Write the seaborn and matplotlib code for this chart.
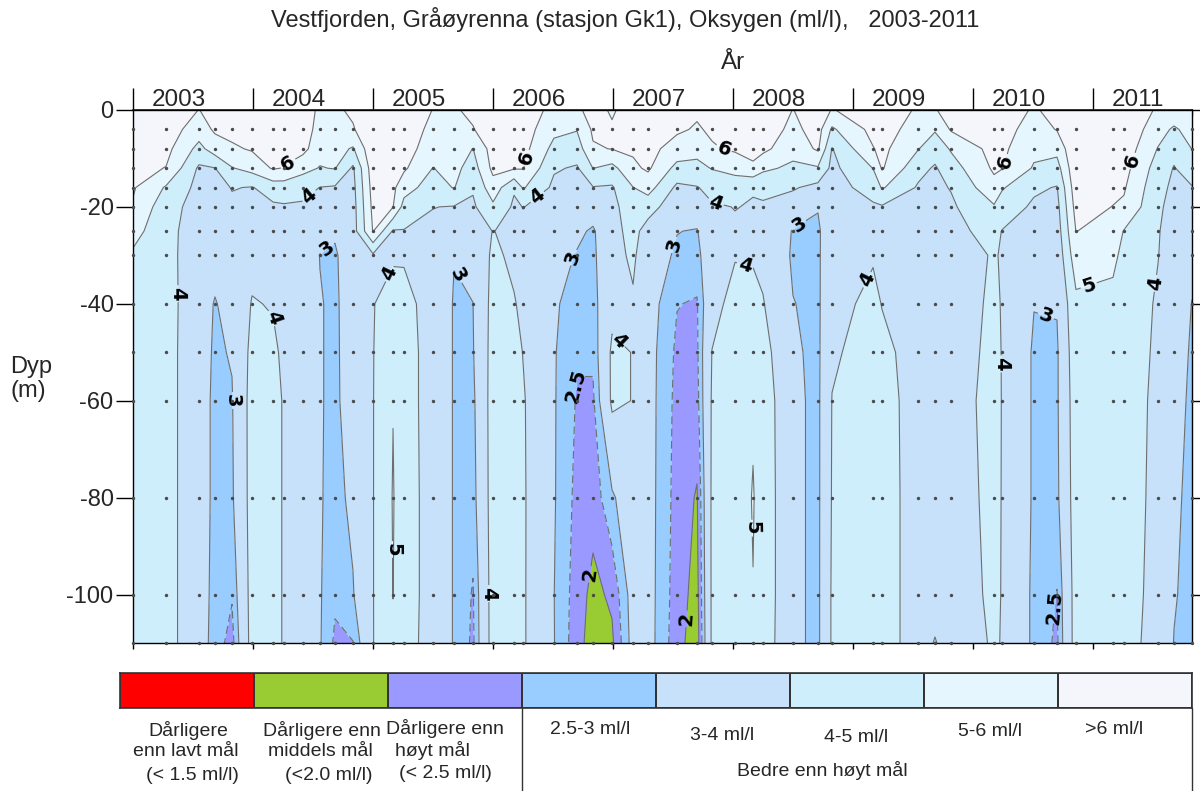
import numpy as np
import pandas as pd
import matplotlib
matplotlib.use("Agg")
import matplotlib.pyplot as plt
from matplotlib.colors import ListedColormap
from matplotlib.lines import Line2D
from matplotlib.ticker import FixedLocator
import seaborn as sns

# Station visits (decimal year)
visit_year = [2003.000, 2003.275, 2003.550, 2003.683, 2003.825, 2003.992, 2004.167, 2004.258,
              2004.417, 2004.558, 2004.683, 2004.833, 2005.000, 2005.167, 2005.258, 2005.500,
              2005.675, 2005.833, 2006.000, 2006.175, 2006.250, 2006.508, 2006.700, 2006.833,
              2006.992, 2007.167, 2007.292, 2007.533, 2007.700, 2007.825, 2008.017, 2008.167,
              2008.250, 2008.500, 2008.708, 2008.825, 2009.167, 2009.242, 2009.542, 2009.683,
              2009.817, 2010.175, 2010.242, 2010.508, 2010.700, 2010.858, 2011.167, 2011.258,
              2011.542, 2011.675, 2011.825]

# Sampling depths (m)
depth_m = [0, 4, 8, 12, 16, 20, 25, 30, 40, 50, 60, 80, 100, 110]

# Oxygen (ml/l) at each depth, one value per visit
o2_0m = [6.8, 6.7, 5.98, 6.4, 6.5, 6.6, 6.7, 6.8, 6.8, 5.7,
         5.8, 6.2, 7.0, 6.9, 6.8, 5.97, 5.9, 6.2, 6.7, 6.7,
         6.6, 5.7, 5.85, 6.3, 5.9, 6.4, 6.5, 6.3, 6.15, 6.3,
         6.5, 6.6, 6.7, 5.98, 6.5, 5.95, 6.5, 6.5, 5.9, 5.95,
         6.3, 6.6, 6.5, 5.9, 6.3, 7.0, 7.0, 6.9, 5.85, 5.7,
         5.7]
o2_4m = [6.65, 6.5, 5.5, 6.15, 6.3, 6.45, 6.55, 6.6, 6.6, 5.55,
         5.6, 5.9, 6.9, 6.8, 6.65, 5.7, 5.75, 5.95, 6.6, 6.6,
         6.5, 5.25, 5.05, 6.15, 6.1, 6.3, 6.4, 6.15, 5.9, 6.15,
         6.35, 6.5, 6.55, 5.75, 6.4, 4.85, 6.3, 6.4, 5.6, 5.1,
         6.1, 6.5, 6.4, 5.55, 6.05, 6.95, 6.9, 6.8, 5.4, 4.85,
         5.4]
o2_8m = [6.5, 6.3, 4.7, 5.5, 5.85, 6.1, 6.35, 6.35, 6.3, 5.35,
         5.35, 4.9, 6.8, 6.65, 6.45, 5.45, 5.55, 4.98, 6.45, 6.45,
         6.35, 4.7, 4.5, 5.9, 6.03, 6.15, 6.3, 5.6, 5.35, 5.9,
         6.15, 6.35, 6.25, 5.35, 6.15, 3.95, 5.95, 6.25, 5.05, 4.4,
         5.1, 6.35, 6.2, 5.25, 5.3, 6.9, 6.75, 6.6, 4.95, 4.3,
         5.02]
o2_12m = [6.3, 5.97, 3.85, 3.98, 4.95, 5.35, 6.1, 5.95, 5.3, 4.95,
          5.05, 3.85, 6.6, 6.45, 6.15, 4.98, 5.3, 4.55, 6.25, 6.1,
          6.05, 4.1, 3.9, 5.02, 4.7, 5.8, 6.15, 4.7, 4.7, 5.05,
          5.3, 5.8, 5.2, 4.8, 4.9, 3.75, 5.02, 6.1, 4.3, 3.9,
          4.55, 6.15, 6.05, 4.9, 4.6, 6.8, 6.5, 6.35, 4.55, 3.95,
          4.5]
o2_16m = [6.1, 4.9, 3.7, 3.6, 4.05, 3.95, 4.45, 4.5, 4.35, 3.98,
          3.9, 3.7, 6.4, 6.2, 5.4, 4.55, 5.05, 4.1, 5.6, 4.1,
          5.1, 3.8, 3.6, 3.95, 3.9, 4.98, 5.4, 3.8, 3.95, 4.3,
          4.5, 4.05, 4.2, 4.1, 3.7, 3.7, 4.3, 5.1, 3.9, 3.8,
          4.05, 5.7, 5.1, 4.15, 3.95, 6.6, 6.2, 6.1, 4.3, 3.8,
          3.95]
o2_20m = [5.9, 4.4, 3.6, 3.5, 3.8, 3.8, 3.85, 3.9, 3.85, 3.6,
          3.5, 3.6, 6.25, 6.02, 4.65, 4.02, 3.95, 3.85, 4.8, 3.85,
          4.02, 3.65, 3.4, 3.4, 3.75, 4.5, 4.4, 3.4, 3.45, 3.9,
          4.02, 3.95, 3.9, 3.5, 3.05, 3.7, 3.9, 3.9, 3.8, 3.75,
          3.85, 4.9, 4.5, 3.85, 3.7, 6.35, 5.98, 5.85, 4.15, 3.7,
          3.6]
o2_25m = [5.35, 4.3, 3.5, 3.4, 3.6, 3.7, 3.75, 3.75, 3.7, 3.3,
          3.1, 3.55, 6.05, 3.9, 3.95, 3.8, 3.6, 3.6, 4.02, 3.8,
          3.8, 3.45, 3.15, 2.9, 3.7, 4.3, 3.6, 3.02, 2.95, 3.7,
          3.9, 3.9, 3.8, 2.95, 2.85, 3.7, 3.85, 3.75, 3.75, 3.7,
          3.75, 4.3, 3.97, 3.6, 3.5, 6.02, 5.6, 4.95, 4.05, 3.65,
          3.4]
o2_30m = [4.85, 4.3, 3.45, 3.3, 3.5, 3.75, 3.75, 3.7, 3.6, 2.98,
          2.9, 3.5, 3.85, 3.85, 3.9, 3.7, 3.02, 3.3, 4.15, 3.85,
          3.75, 3.3, 2.95, 2.85, 3.7, 4.15, 3.4, 2.9, 2.8, 3.6,
          3.95, 3.95, 3.8, 2.9, 2.85, 3.75, 3.95, 3.8, 3.75, 3.7,
          3.7, 4.05, 3.95, 3.4, 3.3, 5.6, 5.25, 4.7, 4.02, 3.6,
          3.2]
o2_40m = [4.6, 4.35, 3.4, 2.95, 3.3, 4.05, 3.95, 3.75, 3.5, 3.05,
          2.85, 3.5, 3.95, 4.5, 4.3, 3.6, 2.95, 2.99, 4.3, 4.05,
          3.85, 3.05, 2.85, 2.75, 3.75, 3.9, 3.3, 2.52, 2.45, 3.7,
          4.3, 4.15, 4.05, 3.02, 2.85, 3.8, 4.15, 3.98, 3.75, 3.7,
          3.7, 4.1, 3.97, 3.02, 3.05, 4.75, 4.7, 4.55, 3.9, 3.5,
          2.98]
o2_50m = [4.5, 4.35, 3.35, 2.9, 3.05, 4.25, 4.15, 3.85, 3.45, 3.05,
          2.85, 3.45, 3.97, 4.7, 4.4, 3.6, 2.95, 2.95, 4.35, 4.3,
          3.98, 3.05, 2.55, 2.6, 4.15, 3.98, 3.25, 2.4, 2.4, 4.02,
          4.4, 4.4, 4.35, 3.1, 2.85, 3.9, 4.3, 4.15, 3.75, 3.7,
          3.7, 4.15, 3.98, 2.9, 2.9, 4.6, 4.5, 4.5, 3.85, 3.4,
          2.9]
o2_60m = [4.5, 4.35, 3.35, 2.85, 2.95, 4.35, 4.2, 3.95, 3.4, 3.05,
          2.85, 3.4, 3.97, 4.98, 4.4, 3.6, 2.95, 2.85, 4.4, 4.4,
          4.08, 3.05, 2.45, 2.4, 4.15, 3.98, 3.25, 2.35, 2.3, 4.1,
          4.45, 4.9, 4.55, 3.15, 2.85, 4.02, 4.4, 4.2, 3.78, 3.7,
          3.72, 4.2, 3.98, 2.9, 2.9, 4.5, 4.45, 4.45, 3.8, 3.3,
          2.85]
o2_80m = [4.5, 4.35, 3.35, 2.85, 2.9, 4.35, 4.2, 3.95, 3.4, 3.05,
          2.8, 3.15, 3.97, 5.05, 4.45, 3.6, 2.95, 2.75, 4.4, 4.4,
          4.1, 3.05, 2.35, 2.2, 2.9, 3.5, 3.25, 2.3, 1.95, 4.15,
          4.5, 5.05, 4.6, 3.15, 2.85, 4.05, 4.4, 4.2, 3.8, 3.7,
          3.72, 4.15, 3.98, 2.9, 2.85, 4.45, 4.4, 4.45, 3.75, 3.15,
          2.8]
o2_100m = [4.5, 4.35, 3.35, 2.8, 2.55, 4.35, 4.2, 3.95, 3.35, 3.05,
           2.6, 2.95, 3.97, 5.01, 4.45, 3.6, 2.95, 2.45, 4.4, 4.4,
           4.1, 3.01, 2.25, 1.85, 2.1, 3.3, 3.25, 2.25, 1.8, 4.15,
           4.45, 4.98, 4.6, 3.15, 2.85, 4.1, 4.4, 4.2, 3.8, 3.7,
           3.72, 4.1, 3.98, 2.85, 2.48, 4.4, 4.4, 4.4, 3.7, 3.05,
           2.8]
o2_110m = [4.5, 4.35, 3.35, 2.75, 2.3, 4.35, 4.2, 3.95, 3.3, 3.05,
           2.4, 2.48, 3.97, 4.9, 4.4, 3.6, 2.95, 2.4, 4.4, 4.4,
           4.1, 3.02, 2.2, 1.75, 1.9, 3.25, 3.25, 2.2, 1.7, 4.15,
           4.4, 4.85, 4.55, 3.15, 2.85, 4.1, 4.4, 4.2, 3.8, 2.9,
           3.72, 4.05, 3.98, 2.85, 2.4, 4.4, 4.4, 4.4, 3.6, 2.98,
           2.8]

# Oxygen classes (ml/l) and their colours
class_bounds = [0, 1.5, 2.0, 2.5, 3, 4, 5, 6, 10]
class_colors = ["#FF0000", "#99CC33", "#9999FF", "#99CCFF",
                "#C7E1FA", "#CEEEFC", "#E6F6FE", "#F5F5FC"]
line_levels = [2, 2.5, 3, 4, 5, 6]
year_ticks = [2003, 2004, 2005, 2006, 2007, 2008, 2009, 2010, 2011]

sns.set_theme(style="white")
plt.rcParams["font.family"] = ["Liberation Sans", "DejaVu Sans"]
plt.rcParams["axes.unicode_minus"] = False

oxygen = np.array([o2_0m, o2_4m, o2_8m, o2_12m, o2_16m, o2_20m, o2_25m, o2_30m,
                   o2_40m, o2_50m, o2_60m, o2_80m, o2_100m, o2_110m])
T, D = np.meshgrid(visit_year, depth_m)
level = -D

W, H = 1200, 791
fig = plt.figure(figsize=(W / 100, H / 100), dpi=100)
ax = fig.add_axes([133 / W, 1 - 643 / H, 1059 / W, 533 / H])

ax.contourf(T, level, oxygen, levels=class_bounds, colors=class_colors)

# isolines with their in-line value labels
label_spots = {
    6: [(2004.31, -11.8), (2006.28, -9.9), (2007.91, -9.3), (2010.27, -10.8), (2011.37, -10.8)],
    5: [(2005.14, -90.7), (2008.16, -86.3), (2010.97, -36.6)],
    4: [(2004.45, -17.2), (2006.39, -18.6), (2007.87, -17.6), (2003.35, -37.9),
        (2004.16, -42.9), (2005.17, -34.2), (2007.07, -47.0), (2008.12, -30.4),
        (2009.08, -34.6), (2010.27, -52.4), (2011.53, -35.8), (2005.95, -99.8)],
    3: [(2004.62, -28.6), (2005.75, -33.5), (2006.66, -30.4), (2007.46, -27.5),
        (2008.54, -23.4), (2003.77, -60.0), (2010.60, -43.1)],
    2.5: [(2006.71, -56.9), (2010.64, -102.5)],
    2: [(2006.83, -95.9), (2007.60, -105.0)],
}
for lvl in line_levels:
    style = (0, (7, 4)) if lvl == 2.5 else "solid"
    cs = ax.contour(T, level, oxygen, levels=[lvl], colors="#6e6e6e",
                    linewidths=0.8, linestyles=[style])
    texts = ax.clabel(cs, manual=label_spots[lvl], inline=True, inline_spacing=3,
                      fontsize=14, colors="black", fmt=lambda v: f"{v:g}")
    for t in texts:
        t.set_fontweight("bold")
        t.set_family("DejaVu Sans")

# sample points
samples = pd.DataFrame({"year": T[1:].ravel(), "level": level[1:].ravel()})
sns.scatterplot(data=samples, x="year", y="level", color="#4a4a4a", s=6,
                linewidth=0, ax=ax, legend=False, zorder=4, clip_on=False)

ax.set_xlim(visit_year[0], visit_year[-1])
ax.set_ylim(-110, 0)
ax.set_xlabel("")
ax.set_ylabel("")
for sp in ax.spines.values():
    sp.set_visible(True)
    sp.set_color("black")
    sp.set_linewidth(1.0)

ax.set_yticks([0, -20, -40, -60, -80, -100])
ax.tick_params(axis="y", which="major", left=True, direction="out", length=12,
               width=1, color="black", labelsize=17, pad=2)
ax.set_xticks(year_ticks)
ax.tick_params(axis="x", which="major", bottom=True, top=False, direction="out",
               length=4, width=1, color="black", labelbottom=False)

top = ax.secondary_xaxis("top")
top.set_xticks(year_ticks)
top.set_xticklabels([])
top.xaxis.set_minor_locator(FixedLocator(visit_year))
top.tick_params(which="major", direction="out", length=16, width=1, color="black")
top.tick_params(which="minor", direction="in", length=4, width=1, color="#555555")

right = ax.secondary_yaxis("right")
right.set_yticks([0, -20, -40, -60, -80, -100])
right.set_yticklabels([])
right.tick_params(which="major", direction="out", length=8, width=1, color="black")

for yr in year_ticks:
    ax.text(yr + 0.158, 1.008, str(yr), transform=ax.get_xaxis_transform(),
            ha="left", va="baseline", fontsize=17.5)

fig.text(625 / W, 1 - 20 / H,
         "Vestfjorden, Gråøyrenna (stasjon Gk1), Oksygen (ml/l),   2003-2011",
         ha="center", va="center", fontsize=17)
fig.text(733 / W, 1 - 63 / H, "År", ha="center", va="center", fontsize=17.5)
fig.text(10 / W, 1 - 379 / H, "Dyp\n(m)", ha="left", va="center", fontsize=17,
         linespacing=1.15)

# colour key
lax = fig.add_axes([120 / W, 1 - 708 / H, 1072 / W, 35 / H])
sns.heatmap(np.arange(len(class_colors))[None, :], cmap=ListedColormap(class_colors),
            vmin=-0.5, vmax=len(class_colors) - 0.5, cbar=False, linewidths=1.2,
            linecolor="#333333", xticklabels=False, yticklabels=False, ax=lax)
for sp in lax.spines.values():
    sp.set_visible(True)
    sp.set_color("#333333")
    sp.set_linewidth(1.2)

key_text = [
    ("Dårligere", 188, 731), ("enn lavt mål", 186, 752), ("(< 1.5 ml/l)", 192, 775),
    ("Dårligere enn", 322, 731), ("middels mål", 320, 752), ("(<2.0 ml/l)", 329, 775),
    ("Dårligere enn", 445, 729), ("høyt mål", 432, 751), ("(< 2.5 ml/l)", 445, 774),
    ("2.5-3 ml/l", 590, 730), ("3-4 ml/l", 722, 735), ("4-5 ml/l", 856, 737),
    ("5-6 ml/l", 990, 732), (">6 ml/l", 1114, 729), ("Bedre enn høyt mål", 822, 770),
]
for txt, px, py in key_text:
    fig.text(px / W, 1 - py / H, txt, ha="center", va="center", fontsize=14)
for px in (522, 1192):
    fig.add_artist(Line2D([px / W, px / W], [0, 1 - 708 / H], color="#333333", lw=1))

fig.savefig("out.png", dpi=100)
